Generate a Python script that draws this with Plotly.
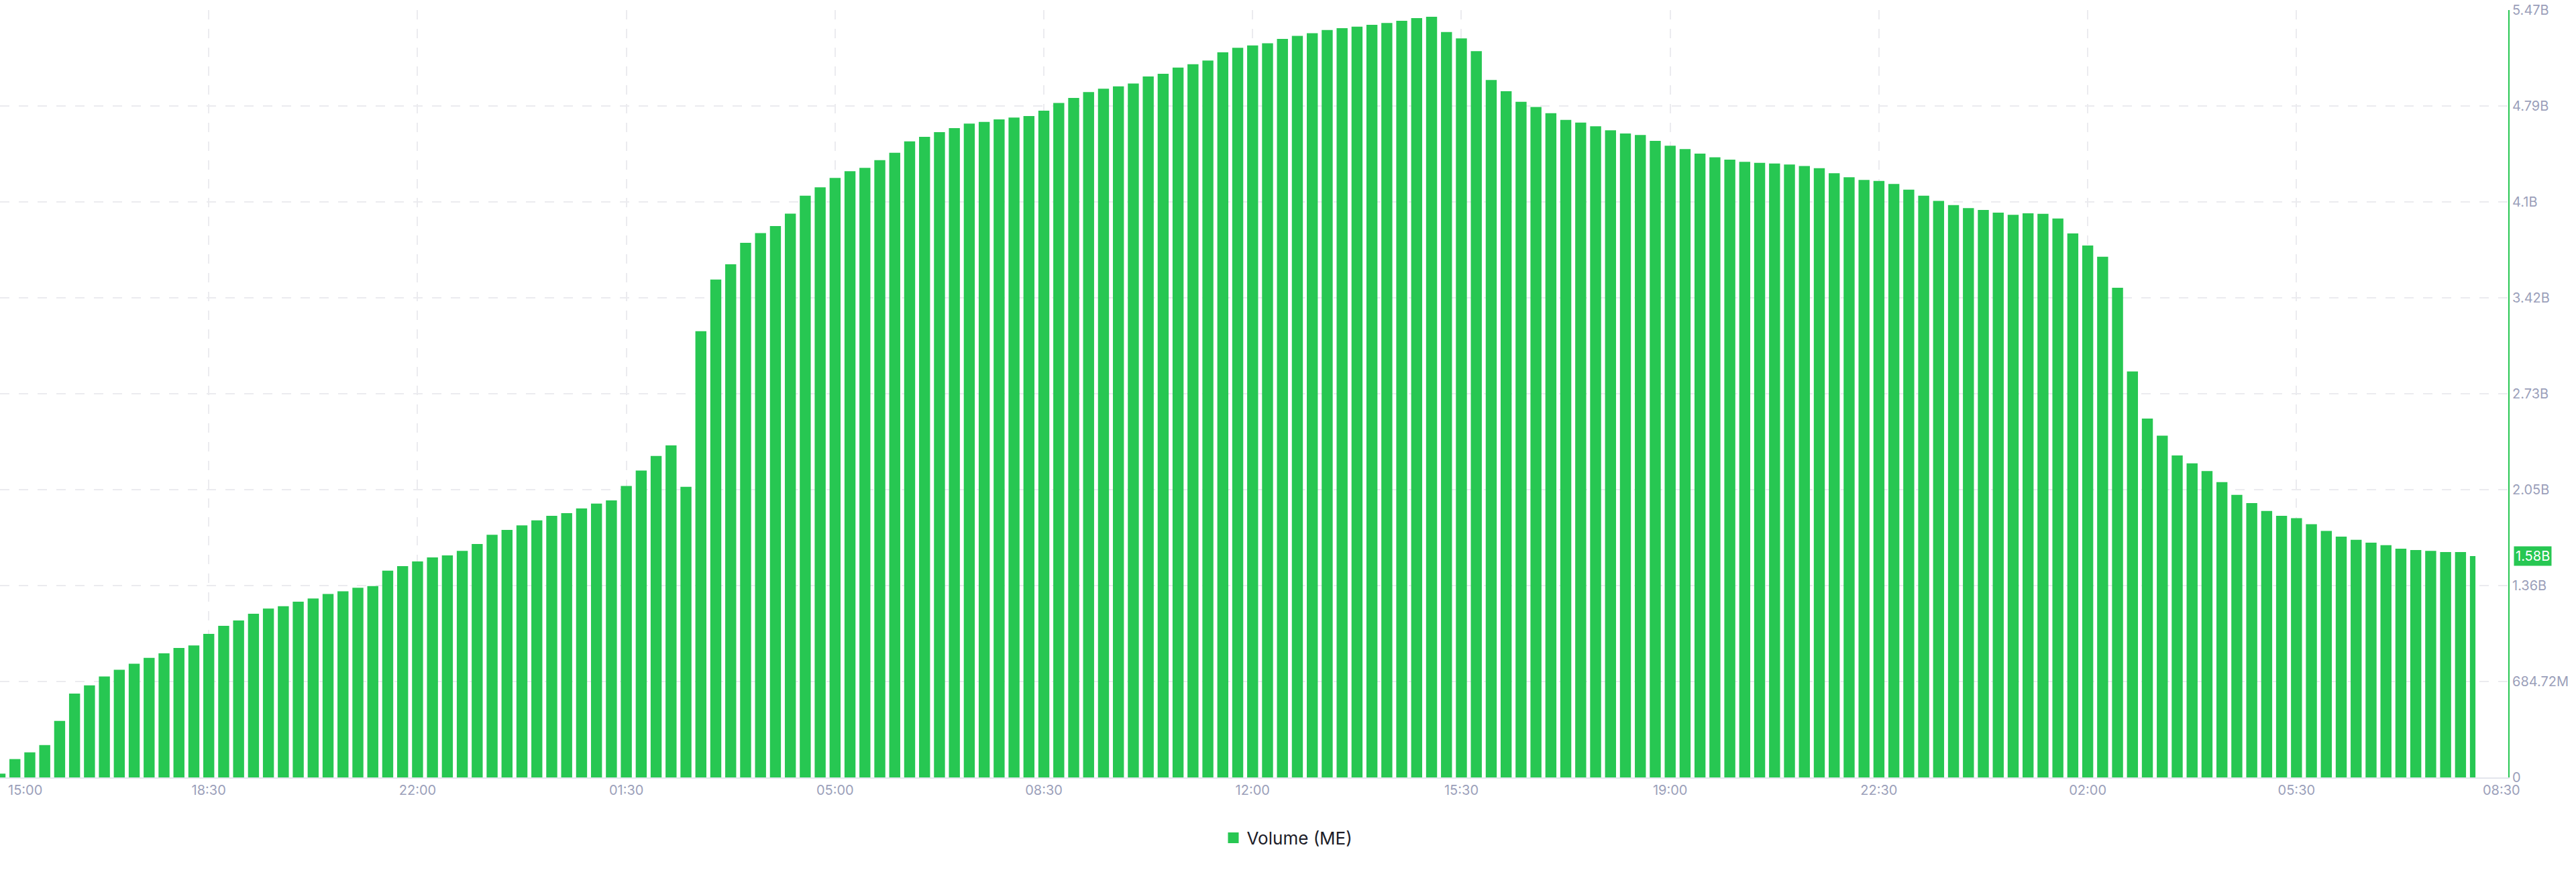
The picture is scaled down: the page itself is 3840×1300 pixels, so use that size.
import pandas as pd
import plotly.graph_objects as go

# ---- data (in millions) ----
volume_m = [
    27, 131, 179, 231, 404, 598, 657, 721, 768, 812,
    854, 886, 924, 942, 1025, 1082, 1120, 1168, 1205, 1222,
    1254, 1277, 1310, 1329, 1354, 1366, 1476, 1508, 1542, 1570,
    1585, 1617, 1666, 1732, 1767, 1799, 1835, 1867, 1886, 1920,
    1955, 1977, 2081, 2191, 2295, 2370, 2075, 3185, 3554, 3663,
    3816, 3886, 3936, 4025, 4153, 4212, 4280, 4327, 4351, 4406,
    4459, 4541, 4573, 4606, 4635, 4667, 4679, 4697, 4711, 4721,
    4759, 4815, 4850, 4892, 4916, 4933, 4954, 5004, 5023, 5067,
    5091, 5117, 5176, 5209, 5225, 5241, 5272, 5294, 5313, 5335,
    5348, 5359, 5372, 5386, 5401, 5420, 5430, 5321, 5275, 5185,
    4978, 4898, 4823, 4786, 4742, 4694, 4675, 4648, 4620, 4597,
    4586, 4544, 4509, 4485, 4453, 4427, 4410, 4394, 4387, 4383,
    4375, 4365, 4349, 4313, 4284, 4265, 4258, 4236, 4196, 4153,
    4116, 4086, 4064, 4051, 4032, 4016, 4027, 4023, 3990, 3883,
    3797, 3717, 3495, 2898, 2562, 2440, 2298, 2242, 2187, 2108,
    2017, 1958, 1902, 1867, 1851, 1807, 1760, 1719, 1696, 1676,
    1658, 1633, 1623, 1617, 1609, 1609, 1580,
]
start_time = "2024-05-01 15:00"
interval = "15min"
x_tick_labels = ["15:00", "18:30", "22:00", "01:30", "05:00", "08:30",
                 "12:00", "15:30", "19:00", "22:30", "02:00", "05:30"]
x_end_label = "08:30"
y_tick_labels = ["0", "684.72M", "1.36B", "2.05B", "2.73B", "3.42B",
                 "4.1B", "4.79B", "5.47B"]
y_tick_step = 684.72e6
series_name = "Volume (ME)"

# ---- derived ----
volume = [v * 1e6 for v in volume_m]
start = pd.Timestamp(start_time)
times = pd.date_range(start, periods=len(volume), freq=interval)
x_end = start + pd.Timedelta(minutes=2523)
tickvals = [start + pd.Timedelta(hours=3.5 * k) for k in range(len(x_tick_labels))]
ticktext = [""] + x_tick_labels[1:]
yvals = [k * y_tick_step for k in range(len(y_tick_labels))]

GREEN = "#27c752"
TICK_COLOR = "#9b9fba"
GRID = "#ebebef"
FONT = "Inter"

bar_w = 0.738 * 15 * 60 * 1000
widths = [bar_w] * (len(volume) - 1) + [bar_w / 2]
offsets = [-bar_w / 2] * len(volume)

fig = go.Figure()
fig.add_trace(go.Bar(
    x=times, y=volume, width=widths, offset=offsets,
    marker=dict(color=GREEN, line=dict(width=0)),
    name=series_name, showlegend=False, hoverinfo="x+y",
))
fig.add_trace(go.Scatter(
    x=[None], y=[None], mode="markers", name=series_name,
    marker=dict(symbol="square", size=18, color=GREEN),
    showlegend=True,
))

fig.update_layout(
    width=3840, height=1300,
    margin=dict(l=0, r=101, t=15, b=141),
    paper_bgcolor="white", plot_bgcolor="white",
    font=dict(family=FONT, size=20, color=TICK_COLOR),
    showlegend=True,
    legend=dict(
        orientation="h", xref="container", yref="container",
        x=0.5, xanchor="center", y=0.0392, yanchor="middle",
        font=dict(family=FONT, size=26, color="#1c1c28"),
        itemsizing="trace",
    ),
    xaxis=dict(
        type="date", range=[start, x_end], automargin=False,
        tickmode="array", tickvals=tickvals, ticktext=ticktext,
        showgrid=True, gridcolor=GRID, gridwidth=2, griddash="14px,14px",
        showline=True, linecolor="#e3e5ec", linewidth=2,
        ticks="", ticklen=0, zeroline=False,
        tickfont=dict(family=FONT, size=20, color=TICK_COLOR),
    ),
    yaxis=dict(
        side="right", range=[0, yvals[-1]], automargin=False,
        tickmode="array", tickvals=yvals, ticktext=y_tick_labels,
        showgrid=True, gridcolor=GRID, gridwidth=2, griddash="14px,14px",
        showline=True, linecolor=GREEN, linewidth=2,
        ticks="", ticklen=0, zeroline=False,
        tickfont=dict(family=FONT, size=20, color=TICK_COLOR),
    ),
)

last = volume[-1]
fig.add_annotation(
    xref="paper", yref="y", x=1, y=last, xanchor="left", yanchor="middle",
    xshift=8, text=f"{last / 1e9:.2f}B", showarrow=False,
    bgcolor=GREEN, borderpad=2,
    font=dict(family=FONT, size=20, color="white"),
)
fig.add_annotation(
    xref="paper", yref="paper", x=0, y=0, xanchor="left", yanchor="top",
    xshift=10, yshift=-5, text=x_tick_labels[0], showarrow=False,
    font=dict(family=FONT, size=20, color=TICK_COLOR),
)
fig.add_annotation(
    xref="paper", yref="paper", x=1, y=0, xanchor="center", yanchor="top",
    xshift=-10, yshift=-5, text=x_end_label, showarrow=False,
    font=dict(family=FONT, size=20, color=TICK_COLOR),
)

fig.write_html(
    "out.html",
    config={"displayModeBar": False},
    post_script="document.body.style.margin='0';",
)
